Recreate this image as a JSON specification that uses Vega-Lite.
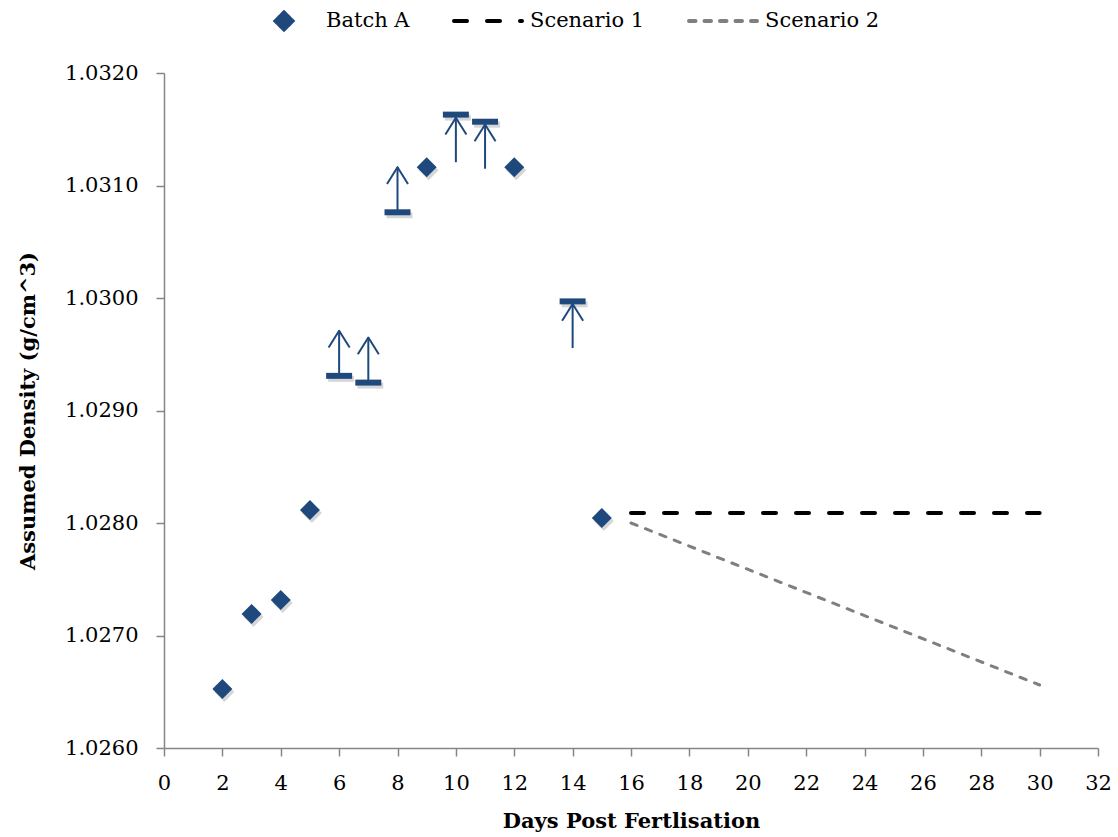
{
  "$schema": "https://vega.github.io/schema/vega-lite/v6.json",
  "width": 934,
  "height": 675,
  "autosize": {"type": "none"},
  "padding": {"left": 164, "top": 73, "right": 20, "bottom": 89},
  "background": "white",
  "config": {
    "view": {"stroke": null},
    "font": "DejaVu Serif",
    "axis": {
      "grid": false,
      "labelFlush": false,
      "domainColor": "#868686",
      "domainWidth": 1.5,
      "tickColor": "#868686",
      "tickWidth": 1.5,
      "tickSize": 8,
      "labelFont": "DejaVu Serif",
      "labelFontSize": 21,
      "labelColor": "#000000",
      "titleFont": "DejaVu Serif",
      "titleFontSize": 21,
      "titleFontWeight": "bold",
      "titleColor": "#000000"
    },
    "legend": {
      "padding": 0,
      "symbolSize": 4624,
      "symbolStrokeWidth": 4,
      "symbolType": "stroke",
      "labelOffset": 6,
      "columnPadding": 36,
      "labelFont": "DejaVu Serif",
      "labelFontSize": 21,
      "labelColor": "#000000"
    }
  },
  "datasets": {
    "batch": [
      {"day": 2, "density": 1.026524, "series": "Batch A"},
      {"day": 3, "density": 1.027192, "series": "Batch A"},
      {"day": 4, "density": 1.027316, "series": "Batch A"},
      {"day": 5, "density": 1.028115, "series": "Batch A"},
      {"day": 9, "density": 1.031163, "series": "Batch A"},
      {"day": 12, "density": 1.031163, "series": "Batch A"},
      {"day": 15, "density": 1.028045, "series": "Batch A"}
    ],
    "bounds": [
      {"day": 6, "density": 1.029308},
      {"day": 7, "density": 1.029248},
      {"day": 8, "density": 1.030762},
      {"day": 10, "density": 1.03163},
      {"day": 11, "density": 1.031567},
      {"day": 14, "density": 1.02997}
    ],
    "arrows": [
      {"day": 6, "base": 1.029308, "tip": 1.029709},
      {"day": 7, "base": 1.029248, "tip": 1.029649},
      {"day": 8, "base": 1.030762, "tip": 1.031163},
      {"day": 10, "base": 1.031207, "tip": 1.031603},
      {"day": 11, "base": 1.031149, "tip": 1.031543},
      {"day": 14, "base": 1.029555, "tip": 1.029947}
    ],
    "scenarios": [
      {"day": 16, "density": 1.02809, "series": "Scenario 1"},
      {"day": 30, "density": 1.02809, "series": "Scenario 1"},
      {"day": 16, "density": 1.028, "series": "Scenario 2"},
      {"day": 30, "density": 1.02656, "series": "Scenario 2"}
    ]
  },
  "encoding": {
    "x": {
      "field": "day",
      "type": "quantitative",
      "title": "Days Post Fertlisation",
      "scale": {"domain": [0, 32], "nice": false, "zero": false},
      "axis": {"values": [0, 2, 4, 6, 8, 10, 12, 14, 16, 18, 20, 22, 24, 26, 28, 30, 32], "labelPadding": 16, "titlePadding": 17, "labelFlush": false}
    }
  },
  "layer": [
    {
      "data": {"name": "batch"},
      "mark": {"type": "point", "shape": "diamond", "size": 400, "filled": true, "color": "#000000", "opacity": 0.16, "xOffset": 2, "yOffset": 3},
      "encoding": {
        "y": {"field": "density", "type": "quantitative", "title": "Assumed Density (g/cm^3)",
          "scale": {"domain": [1.026, 1.032], "nice": false, "zero": false},
          "axis": {"values": [1.026, 1.027, 1.028, 1.029, 1.03, 1.031, 1.032], "format": ".4f", "labelPadding": 18, "titlePadding": 26, "labelFlush": false}}
      }
    },
    {
      "data": {"name": "bounds"},
      "mark": {"type": "point", "shape": "M-1,-0.23H1V0.23H-1Z", "size": 676, "filled": true, "color": "#000000", "opacity": 0.16, "xOffset": 2, "yOffset": 3},
      "encoding": {
        "y": {"field": "density", "type": "quantitative", "title": "Assumed Density (g/cm^3)"}
      }
    },
    {
      "data": {"name": "scenarios"},
      "transform": [{"filter": "datum.series === 'Scenario 1'"}],
      "mark": {"type": "line", "strokeWidth": 4, "strokeCap": "round", "strokeDash": [13, 20]},
      "encoding": {
        "y": {"field": "density", "type": "quantitative", "title": "Assumed Density (g/cm^3)"},
        "color": {"field": "series", "type": "nominal",
          "scale": {"domain": ["Batch A", "Scenario 1", "Scenario 2"], "range": ["#1F497D", "#000000", "#7F7F7F"]},
          "legend": {
            "title": null,
            "orient": "none",
            "direction": "horizontal",
            "legendX": 84,
            "legendY": -88,
            "encode": {
              "symbols": {
                "update": {
                  "fill": {"signal": "datum.value === 'Batch A' ? '#1F497D' : 'transparent'"},
                  "stroke": {"signal": "datum.value === 'Batch A' ? 'transparent' : (datum.value === 'Scenario 1' ? '#000000' : '#7F7F7F')"},
                  "strokeCap": {"value": "round"},
                  "shape": {"signal": "datum.value === 'Batch A' ? 'M-0.25,0L0,-0.25L0.25,0L0,0.25ZM0,-0.5M0,0.5' : 'M-1,0L1,0M0,-0.5M0,0.5'"},
                  "strokeDash": {"signal": "datum.value === 'Scenario 1' ? [13, 20] : (datum.value === 'Scenario 2' ? [6.5, 9] : [1, 0])"}
                }
              }
            }
          }}
      }
    },
    {
      "data": {"name": "scenarios"},
      "transform": [{"filter": "datum.series === 'Scenario 2'"}],
      "mark": {"type": "line", "strokeWidth": 3, "strokeCap": "round", "strokeDash": [6.5, 9]},
      "encoding": {
        "y": {"field": "density", "type": "quantitative", "title": "Assumed Density (g/cm^3)"},
        "color": {"field": "series", "type": "nominal", "legend": null}
      }
    },
    {
      "data": {"name": "arrows"},
      "mark": {"type": "rule", "strokeWidth": 2, "color": "#1F497D"},
      "encoding": {
        "y": {"field": "base", "type": "quantitative", "title": "Assumed Density (g/cm^3)"},
        "y2": {"field": "tip"}
      }
    },
    {
      "data": {"name": "arrows"},
      "mark": {"type": "point", "shape": "M-1,1.6L0,0L1,1.6", "size": 441, "filled": false, "strokeWidth": 2, "strokeJoin": "round", "color": "#1F497D", "opacity": 1},
      "encoding": {
        "y": {"field": "tip", "type": "quantitative", "title": "Assumed Density (g/cm^3)"}
      }
    },
    {
      "data": {"name": "bounds"},
      "mark": {"type": "point", "shape": "M-1,-0.23H1V0.23H-1Z", "size": 676, "filled": true, "color": "#1F497D", "opacity": 1},
      "encoding": {
        "y": {"field": "density", "type": "quantitative", "title": "Assumed Density (g/cm^3)"}
      }
    },
    {
      "data": {"name": "batch"},
      "mark": {"type": "point", "shape": "diamond", "size": 400, "filled": true, "opacity": 1},
      "encoding": {
        "y": {"field": "density", "type": "quantitative", "title": "Assumed Density (g/cm^3)"},
        "color": {"field": "series", "type": "nominal", "legend": null}
      }
    }
  ]
}
